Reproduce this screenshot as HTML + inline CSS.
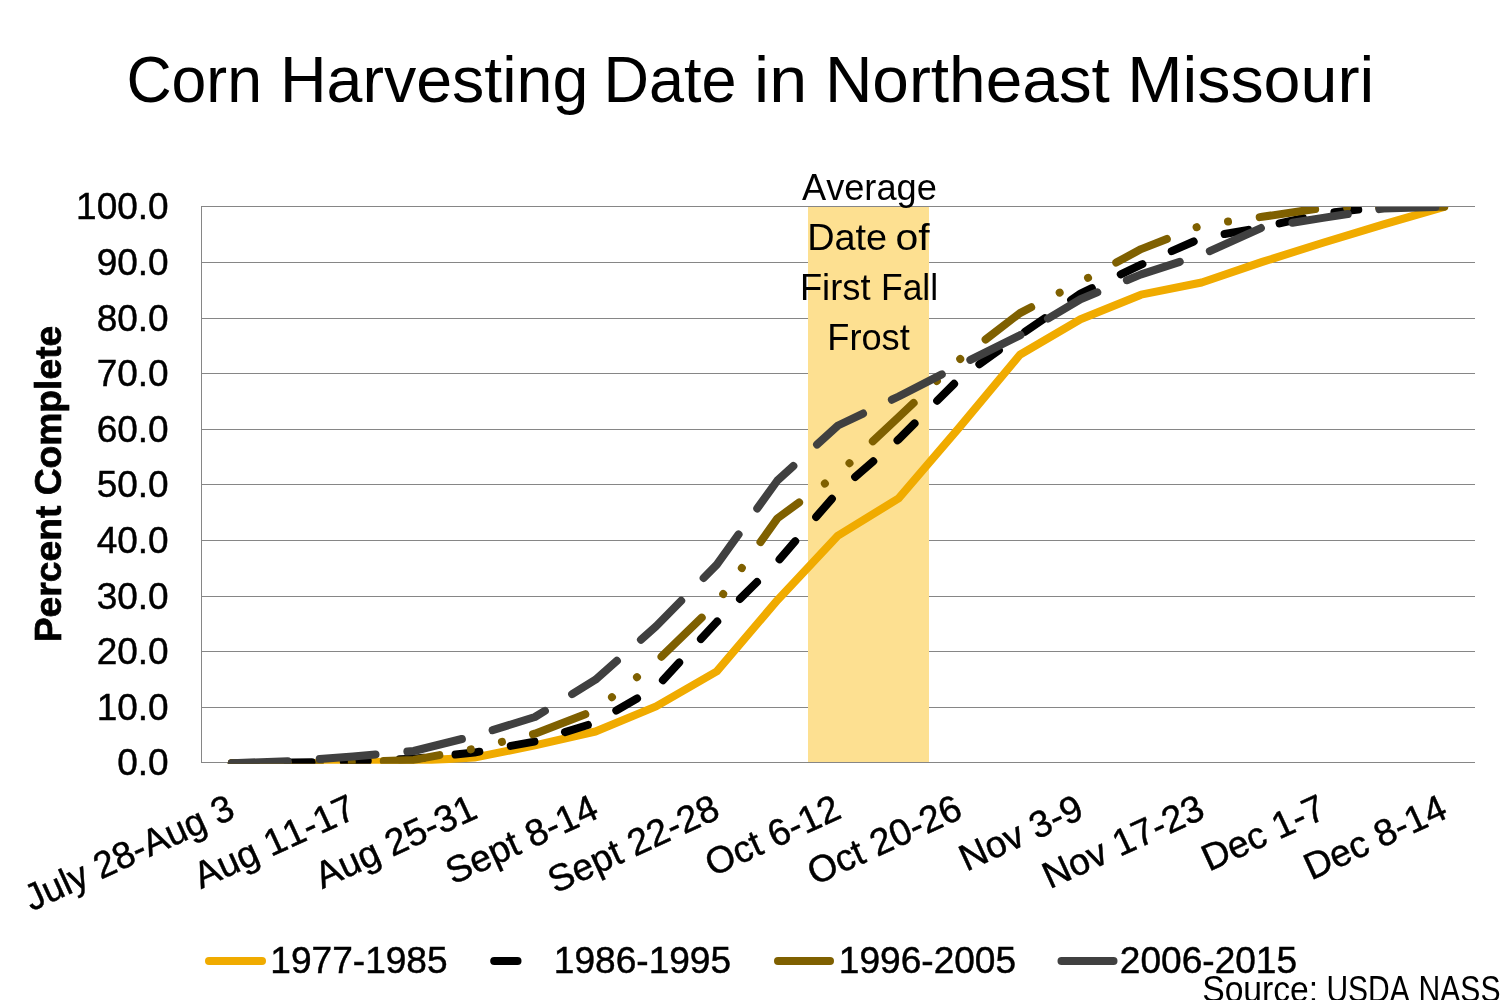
<!DOCTYPE html>
<html lang="en">
<head>
<meta charset="utf-8">
<title>Corn Harvesting Date in Northeast Missouri</title>
<style>
html,body{margin:0;padding:0;background:#fff;}
body{width:1500px;height:1000px;overflow:hidden;}
svg{display:block;}
text{font-family:"Liberation Sans", Arial, Helvetica, sans-serif;fill:#000;font-kerning:none;}
.ax{font-size:37px;stroke:#000;stroke-width:0.45px;}
.lg{font-size:37.1px;stroke:#000;stroke-width:0.45px;}
.xl{font-size:37.5px;stroke:#000;stroke-width:0.45px;}
.ttl{font-size:64.5px;}
.ann{font-size:37px;}
.yt{font-size:37.3px;font-weight:bold;stroke:#000;stroke-width:0.7px;}
</style>
</head>
<body>
<svg width="1500" height="1000" viewBox="0 0 1500 1000">
<rect x="0" y="0" width="1500" height="1000" fill="#ffffff"/>
<text class="ttl" y="102"><tspan x="126.4" textLength="135.6" lengthAdjust="spacingAndGlyphs">Corn</tspan> <tspan x="280.0" textLength="308.3" lengthAdjust="spacingAndGlyphs">Harvesting</tspan> <tspan x="603.4" textLength="133.1" lengthAdjust="spacingAndGlyphs">Date</tspan> <tspan x="754.1" textLength="53.1" lengthAdjust="spacingAndGlyphs">in</tspan> <tspan x="824.9" textLength="285.0" lengthAdjust="spacingAndGlyphs">Northeast</tspan> <tspan x="1127.2" textLength="247.1" lengthAdjust="spacingAndGlyphs">Missouri</tspan></text>
<g stroke="#868686" stroke-width="1" shape-rendering="crispEdges" fill="none">
<line x1="201" y1="206.5" x2="1475" y2="206.5"/>
<line x1="201" y1="262.5" x2="1475" y2="262.5"/>
<line x1="201" y1="318.5" x2="1475" y2="318.5"/>
<line x1="201" y1="373.5" x2="1475" y2="373.5"/>
<line x1="201" y1="429.5" x2="1475" y2="429.5"/>
<line x1="201" y1="484.5" x2="1475" y2="484.5"/>
<line x1="201" y1="540.5" x2="1475" y2="540.5"/>
<line x1="201" y1="596.5" x2="1475" y2="596.5"/>
<line x1="201" y1="651.5" x2="1475" y2="651.5"/>
<line x1="201" y1="707.5" x2="1475" y2="707.5"/>
<line x1="201" y1="762.5" x2="1475" y2="762.5"/>
<line x1="201.5" y1="206" x2="201.5" y2="763"/>
</g>
<g class="ax" text-anchor="end">
<text x="168.7" y="218.7">100.0</text>
<text x="168.7" y="274.7">90.0</text>
<text x="168.7" y="330.7">80.0</text>
<text x="168.7" y="385.7">70.0</text>
<text x="168.7" y="441.7">60.0</text>
<text x="168.7" y="496.7">50.0</text>
<text x="168.7" y="552.7">40.0</text>
<text x="168.7" y="608.7">30.0</text>
<text x="168.7" y="663.7">20.0</text>
<text x="168.7" y="719.7">10.0</text>
<text x="168.7" y="774.7">0.0</text>
</g>
<text class="yt" transform="translate(61 484) rotate(-90)" text-anchor="middle" textLength="316.5" lengthAdjust="spacingAndGlyphs">Percent Complete</text>
<rect x="808" y="207" width="121" height="555" fill="#FDE091"/>
<defs><clipPath id="plot"><rect x="201" y="207" width="1274" height="556.7"/></clipPath></defs>
<g clip-path="url(#plot)" fill="none" stroke-width="8" stroke-linecap="round" stroke-linejoin="round">
<polyline points="231.8,763.2 292.4,763.2 353.0,762.6 413.7,761.0 474.3,757.6 534.9,745.4 595.5,731.5 656.1,706.4 716.8,671.4 777.4,600.2 838.0,535.6 898.6,498.4 959.2,427.7 1019.9,354.8 1080.5,319.2 1141.1,294.7 1201.7,282.5 1262.3,261.9 1323.0,242.7 1383.6,224.3 1444.2,206.8" stroke="#F0AB00"/>
<polyline points="231.8,763.2 292.4,762.6 353.0,761.5 413.7,758.7 474.3,752.6 534.9,741.5 595.5,722.6 656.1,687.5 716.8,621.9 777.4,561.8 838.0,491.7 898.6,439.4 959.2,378.7 1019.9,335.3 1080.5,293.6 1141.1,264.7 1201.7,238.0 1262.3,227.4 1323.0,213.5 1383.6,206.8 1444.2,206.8" stroke="#000000" stroke-dasharray="24 32"/>
<polyline points="231.8,763.2 292.4,763.2 353.0,762.1 413.7,759.9 474.3,748.7 534.9,733.7 595.5,710.3 656.1,661.9 716.8,603.0 777.4,518.4 838.0,473.9 898.6,417.1 959.2,359.8 1019.9,313.1 1080.5,281.9 1141.1,249.1 1201.7,225.2 1262.3,216.8 1323.0,207.9 1383.6,206.8 1444.2,206.8" stroke="#7F6000" stroke-dasharray="56 32 0.01 32 0.01 32"/>
<polyline points="231.8,763.2 292.4,761.0 353.0,756.5 413.7,751.0 474.3,735.9 534.9,717.0 595.5,679.7 656.1,626.3 716.8,564.6 777.4,480.5 838.0,425.5 898.6,396.5 959.2,365.4 1019.9,335.3 1080.5,299.2 1141.1,274.4 1201.7,254.7 1262.3,227.4 1323.0,217.9 1383.6,208.5 1444.2,206.8" stroke="#404040" stroke-dasharray="56 32"/>
</g>
<text class="ann"><tspan x="802.0" y="199.8" textLength="134.8" lengthAdjust="spacingAndGlyphs">Average</tspan> <tspan x="807.2" y="249.8" textLength="79.9" lengthAdjust="spacingAndGlyphs">Date</tspan> <tspan x="895.5" y="249.8" textLength="34.1" lengthAdjust="spacingAndGlyphs">of</tspan> <tspan x="799.9" y="300.1" textLength="70.6" lengthAdjust="spacingAndGlyphs">First</tspan> <tspan x="881.0" y="300.1" textLength="57.1" lengthAdjust="spacingAndGlyphs">Fall</tspan> <tspan x="827.3" y="350.2" textLength="82.5" lengthAdjust="spacingAndGlyphs">Frost</tspan></text>
<g class="xl" text-anchor="end">
<text transform="translate(237.0 817.0) rotate(-24.7)" textLength="226" lengthAdjust="spacingAndGlyphs">July 28-Aug 3</text>
<text transform="translate(358.2 817.0) rotate(-24.7)">Aug 11-17</text>
<text transform="translate(479.5 817.0) rotate(-24.7)">Aug 25-31</text>
<text transform="translate(600.7 817.0) rotate(-24.7)">Sept 8-14</text>
<text transform="translate(722.0 817.0) rotate(-24.7)">Sept 22-28</text>
<text transform="translate(843.2 817.0) rotate(-24.7)">Oct 6-12</text>
<text transform="translate(964.4 817.0) rotate(-24.7)">Oct 20-26</text>
<text transform="translate(1085.7 817.0) rotate(-24.7)">Nov 3-9</text>
<text transform="translate(1206.9 817.0) rotate(-24.7)">Nov 17-23</text>
<text transform="translate(1328.2 817.0) rotate(-24.7)">Dec 1-7</text>
<text transform="translate(1449.4 817.0) rotate(-24.7)">Dec 8-14</text>
</g>
<line x1="209" y1="961" x2="262" y2="961" stroke="#F0AB00" stroke-width="8" stroke-linecap="round"/>
<text class="lg" x="270.3" y="972.5">1977-1985</text>
<line x1="494.2" y1="961" x2="517.5" y2="961" stroke="#000000" stroke-width="8" stroke-linecap="round"/>
<text class="lg" x="553.8" y="972.5">1986-1995</text>
<line x1="778" y1="961" x2="830" y2="961" stroke="#7F6000" stroke-width="8" stroke-linecap="round"/>
<text class="lg" x="838.8" y="972.5">1996-2005</text>
<line x1="1061.5" y1="961" x2="1113.5" y2="961" stroke="#404040" stroke-width="8" stroke-linecap="round"/>
<text class="lg" x="1119.8" y="972.5">2006-2015</text>
<text class="ann" y="1002"><tspan x="1202.2" textLength="116.0" lengthAdjust="spacingAndGlyphs">Source:</tspan> <tspan x="1326.4" textLength="83.3" lengthAdjust="spacingAndGlyphs">USDA</tspan> <tspan x="1418.6" textLength="81.9" lengthAdjust="spacingAndGlyphs">NASS</tspan></text>
</svg>
</body>
</html>
